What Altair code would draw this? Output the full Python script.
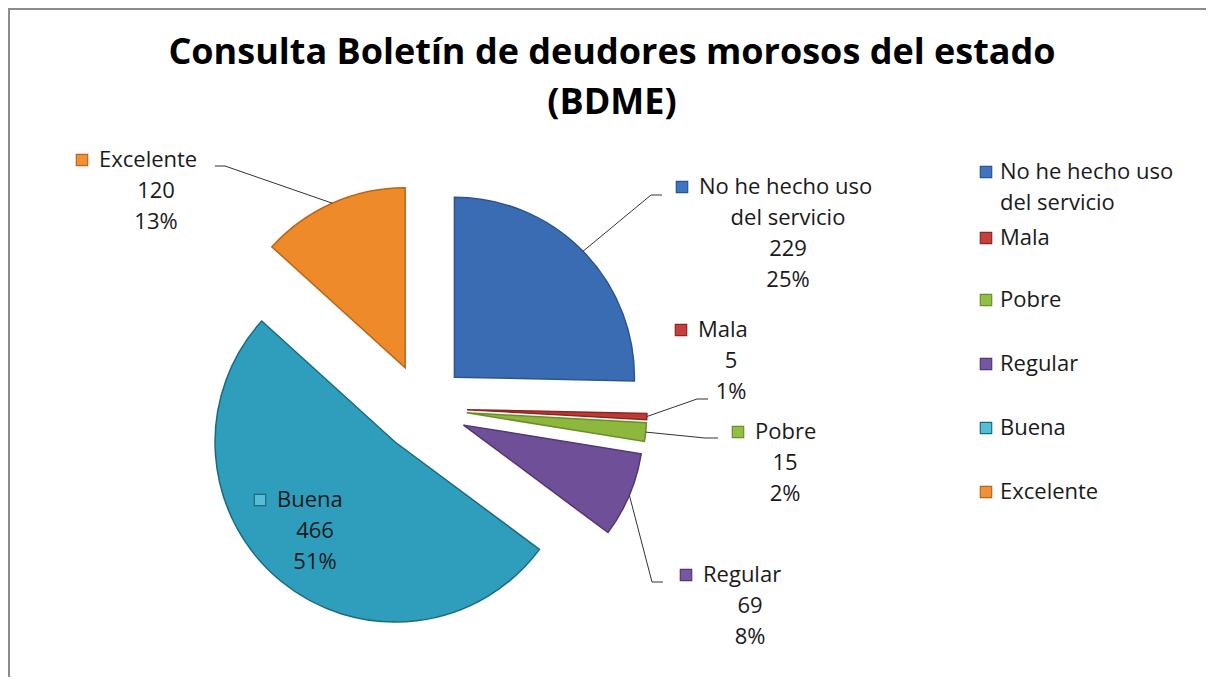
import math
import altair as alt
import pandas as pd

# ---------------- data ----------------
categories = ["No he hecho uso del servicio", "Mala", "Pobre", "Regular", "Buena", "Excelente"]
values = [229, 5, 15, 69, 466, 120]
pct_labels = ["25%", "1%", "2%", "8%", "51%", "13%"]
name_lines = [["No he hecho uso", "del servicio"], ["Mala"], ["Pobre"], ["Regular"], ["Buena"], ["Excelente"]]
title_lines = ["Consulta Boletín de deudores morosos del estado", "(BDME)"]

# ---------------- styles ----------------
colors = ["#3A6CB3", "#BD3B37", "#8DB73D", "#6E4F98", "#2F9DBC", "#EF8A2B"]
edge_colors = ["#2B5490", "#8E2522", "#6A8F27", "#513775", "#1B6A80", "#B9661A"]
marker_fill = ["#3F74BE", "#C4403C", "#93BF45", "#7657A1", "#55BDD8", "#F0903A"]
FONT = "Open Sans"
FS = 22
LINE = 31

# ---------------- layout (page pixels) ----------------
W, H = 1198, 669
ORIGIN = 8
CX, CY = 423, 408
R = 180
EXPLODE = 44
label_layout = {  # marker x, first line y, centre x of the following lines
    "No he hecho uso del servicio": (682, 187, 788),
    "Mala": (681, 330, 731),
    "Pobre": (738, 432, 785),
    "Regular": (686, 575, 750),
    "Buena": (260, 500, 315),
    "Excelente": (82, 160, 156),
}
leader_layout = {  # elbow, end
    "No he hecho uso del servicio": [(651, 195), (662, 195)],
    "Mala": [(697, 399), (708, 399)],
    "Pobre": [(705, 438), (718, 438)],
    "Regular": [(652, 582), (663, 582)],
    "Excelente": [(225, 166), (215, 166)],
}
legend_x = 986
legend_y = [172, 238, 300, 364, 428, 492]
title_x, title_y = 612, [64, 114]

# ---------------- derived tables ----------------
total = sum(values)
slices, leaders, txt_left, txt_center, markers = [], [], [], [], []
acc = 0
for i, (c, v) in enumerate(zip(categories, values)):
    s, e = acc, acc + v
    acc = e
    mid = (s + e) / 2 / total * 2 * math.pi
    ax = CX + EXPLODE * math.sin(mid)
    ay = CY - EXPLODE * math.cos(mid)
    slices.append(dict(cat=c, start=s, end=e, cx=ax, cy=ay))
    if c in leader_layout:
        pts = [(ax + R * math.sin(mid), ay - R * math.cos(mid))] + leader_layout[c]
        for k, (px, py) in enumerate(pts):
            leaders.append(dict(cat=c, k=k, x=px, y=py))
    mx, y0, lcx = label_layout[c]
    markers.append(dict(cat=c, x=mx, y=y0))
    txt_left.append(dict(x=mx + 17, y=y0, t=name_lines[i][0]))
    rest = name_lines[i][1:] + [str(v), pct_labels[i]]
    for k, t in enumerate(rest):
        txt_center.append(dict(x=lcx, y=y0 + LINE * (k + 1), t=t))
    # legend
    ly = legend_y[i]
    markers.append(dict(cat=c, x=legend_x, y=ly))
    for k, t in enumerate(name_lines[i]):
        txt_left.append(dict(x=legend_x + 14, y=ly + LINE * k, t=t))

titles = pd.DataFrame(dict(x=[title_x] * len(title_lines), y=title_y, t=title_lines))

xs = alt.Scale(domain=[ORIGIN, ORIGIN + W], range=[0, W], nice=False, zero=False)
ys = alt.Scale(domain=[ORIGIN, ORIGIN + H], range=[0, H], nice=False, zero=False)
cscale = alt.Scale(domain=categories, range=colors)
mscale = alt.Scale(domain=categories, range=marker_fill)
sscale = alt.Scale(domain=categories, range=edge_colors)
X = lambda f: alt.X(f, scale=xs, axis=None, stack=None)
Y = lambda f: alt.Y(f, scale=ys, axis=None, stack=None)

pie = alt.Chart(pd.DataFrame(slices)).mark_arc(outerRadius=R, strokeWidth=1.5).encode(
    theta=alt.Theta("start:Q", scale=alt.Scale(domain=[0, total], range=[0, 2 * math.pi])),
    theta2="end:Q",
    x=X("cx:Q"), y=Y("cy:Q"),
    color=alt.Color("cat:N", scale=cscale, legend=None),
    stroke=alt.Stroke("cat:N", scale=sscale, legend=None),
)

lead = alt.Chart(pd.DataFrame(leaders)).mark_line(color="#333333", strokeWidth=1).encode(
    x=X("x:Q"), y=Y("y:Q"), detail="cat:N", order="k:Q"
)

mk = alt.Chart(pd.DataFrame(markers)).mark_square(size=130, opacity=1, strokeWidth=1.2).encode(
    x=X("x:Q"), y=Y("y:Q"),
    fill=alt.Fill("cat:N", scale=mscale, legend=None),
    stroke=alt.Stroke("cat:N", scale=sscale, legend=None),
)

tl = alt.Chart(pd.DataFrame(txt_left)).mark_text(
    align="left", baseline="middle", font=FONT, fontSize=FS, color="#1a1a1a"
).encode(x=X("x:Q"), y=Y("y:Q"), text="t:N")

tc = alt.Chart(pd.DataFrame(txt_center)).mark_text(
    align="center", baseline="middle", font=FONT, fontSize=FS, color="#1a1a1a"
).encode(x=X("x:Q"), y=Y("y:Q"), text="t:N")

tt = alt.Chart(titles).mark_text(
    align="center", baseline="alphabetic", font=FONT, fontSize=36, fontWeight="bold", color="#000000"
).encode(x=X("x:Q"), y=Y("y:Q"), text="t:N")

border_l = alt.Chart(titles).mark_rule(color="#8c8c8c", strokeWidth=2).encode(
    x=alt.value(1), y=alt.value(0), y2=alt.value(H)
)
border_t = alt.Chart(titles).mark_rule(color="#8c8c8c", strokeWidth=2).encode(
    y=alt.value(1), x=alt.value(0), x2=alt.value(W)
)

chart = alt.layer(border_l, border_t, pie, lead, mk, tl, tc, tt).properties(
    width=W, height=H, padding=0, autosize=alt.AutoSizeParams(type="none")
).configure_view(stroke=None)

chart.save("out.html", embed_options={"renderer": "svg", "actions": False})
